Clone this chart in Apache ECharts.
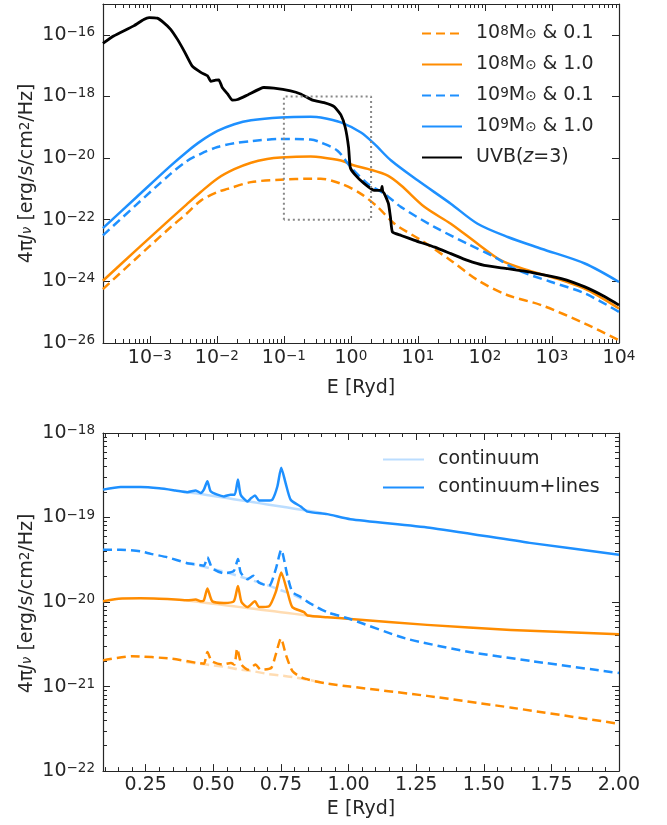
<!DOCTYPE html>
<html><head><meta charset="utf-8">
<script src="https://cdn.jsdelivr.net/npm/echarts@6/dist/echarts.min.js"></script>
<style>html,body{margin:0;padding:0;background:#fff}#c{width:667px;height:825px}</style>
</head><body><div id="c"></div>
<script>
// ---------- TOP PANEL DATA (log10 E [Ryd], log10 4πJν) ----------
const uvbLogE = [-3.70,-3.54,-3.24,-3.09,-3.01,-2.89,-2.79,-2.69,-2.59,-2.49,-2.37,-2.24,-2.14,-2.09,-2.02,-1.97,-1.92,-1.84,-1.77,-1.69,-1.54,-1.30,-1.15,-0.90,-0.75,-0.57,-0.40,-0.25,-0.15,-0.085,-0.035,-0.01,0.05,0.20,0.35,0.45,0.465,0.475,0.50,0.56,0.59,0.62,0.75,0.95,1.25,1.49,1.74,1.99,2.34,2.74,3.14,3.49,3.79,4.0];
const uvbLogJ = [-16.28,-16.04,-15.71,-15.50,-15.44,-15.46,-15.61,-15.82,-16.14,-16.52,-17.01,-17.22,-17.33,-17.51,-17.47,-17.46,-17.71,-17.92,-18.12,-18.10,-17.95,-17.71,-17.73,-17.82,-17.92,-18.12,-18.20,-18.33,-18.60,-19.0,-19.65,-20.30,-20.51,-20.83,-21.05,-21.05,-20.92,-21.08,-21.16,-21.48,-21.92,-22.40,-22.51,-22.67,-22.89,-23.10,-23.32,-23.48,-23.59,-23.73,-23.91,-24.18,-24.50,-24.77];

const b10TopLogE = [-3.70,-3.2,-2.7,-2.45,-2.24,-1.99,-1.74,-1.49,-1.05,-0.60,-0.45,-0.15,0.15,0.35,0.60,1.0,1.49,1.89,2.34,2.84,3.49,4.0];
const b10TopLogJ = [-22.27,-21.27,-20.27,-19.80,-19.45,-19.12,-18.90,-18.77,-18.68,-18.66,-18.68,-18.84,-19.17,-19.54,-20.08,-20.73,-21.48,-22.13,-22.56,-22.94,-23.42,-24.02];

const b01TopLogE = [-3.70,-3.2,-2.7,-2.45,-2.24,-1.99,-1.74,-1.49,-1.05,-0.60,-0.45,-0.20,0.0,0.25,0.50,0.75,1.25,1.74,2.14,2.49,2.99,3.49,4.0];
const b01TopLogJ = [-22.51,-21.51,-20.53,-20.10,-19.86,-19.64,-19.52,-19.45,-19.38,-19.40,-19.49,-19.76,-20.30,-20.83,-21.16,-21.59,-22.24,-22.78,-23.21,-23.64,-24.02,-24.39,-24.99];

const o10TopLogE = [-3.70,-3.2,-2.7,-2.45,-2.24,-1.99,-1.74,-1.49,-1.25,-1.05,-0.60,-0.45,-0.15,0.05,0.25,0.55,0.75,1.10,1.49,1.89,2.24,2.64,3.14,3.54,4.0];
const o10TopLogJ = [-23.98,-22.98,-21.99,-21.50,-21.10,-20.66,-20.36,-20.15,-20.03,-19.98,-19.95,-19.97,-20.08,-20.24,-20.35,-20.57,-20.89,-21.59,-22.13,-22.78,-23.32,-23.64,-23.96,-24.29,-24.88];

const o01TopLogE = [-3.70,-3.2,-2.7,-2.45,-2.24,-1.99,-1.84,-1.49,-1.05,-0.60,-0.45,-0.15,0.15,0.40,0.65,1.05,1.49,1.89,2.34,2.84,3.49,4.0];
const o01TopLogJ = [-24.25,-23.25,-22.26,-21.80,-21.38,-21.10,-21.00,-20.78,-20.70,-20.67,-20.67,-20.83,-21.16,-21.59,-22.13,-22.67,-23.32,-23.96,-24.45,-24.77,-25.37,-25.91];

// zoom box shown in top panel (E range [Ryd], log10 J range)
const boxE = [0.1, 2.0];
const boxLogJ = [-22, -18];

// ---------- BOTTOM PANEL DATA (E [Ryd], log10 4πJν) ----------
const b10E = [0.092,0.157,0.231,0.30,0.36,0.404,0.435,0.453,0.465,0.478,0.49,0.515,0.539,0.564,0.579,0.591,0.601,0.626,0.64,0.654,0.669,0.70,0.718,0.737,0.751,0.767,0.786,0.823,0.848,0.921,1.007,1.30,1.67,2.0];
const b10LogJ = [-18.67,-18.64,-18.64,-18.655,-18.68,-18.70,-18.68,-18.71,-18.67,-18.57,-18.69,-18.73,-18.75,-18.73,-18.73,-18.55,-18.73,-18.81,-18.77,-18.74,-18.80,-18.80,-18.79,-18.63,-18.41,-18.59,-18.79,-18.87,-18.93,-18.96,-19.02,-19.12,-19.30,-19.44];

const b01E = [0.092,0.157,0.231,0.269,0.33,0.404,0.429,0.465,0.478,0.496,0.539,0.576,0.591,0.601,0.626,0.648,0.669,0.706,0.731,0.751,0.774,0.792,0.823,0.86,0.921,1.005,1.21,1.446,1.68,2.0];
const b01LogJ = [-19.38,-19.38,-19.40,-19.43,-19.47,-19.54,-19.55,-19.57,-19.47,-19.60,-19.66,-19.63,-19.49,-19.65,-19.73,-19.69,-19.77,-19.81,-19.61,-19.38,-19.69,-19.88,-19.94,-20.02,-20.12,-20.20,-20.43,-20.59,-20.70,-20.84];

const o10E = [0.092,0.15,0.231,0.30,0.36,0.404,0.435,0.453,0.465,0.478,0.496,0.539,0.576,0.591,0.604,0.626,0.654,0.669,0.706,0.731,0.751,0.774,0.792,0.835,0.848,0.921,1.007,1.29,1.60,2.0];
const o10LogJ = [-19.99,-19.96,-19.955,-19.96,-19.97,-19.98,-19.97,-19.99,-19.98,-19.84,-19.99,-20.01,-19.99,-19.81,-20.0,-20.06,-19.99,-20.06,-20.05,-19.88,-19.65,-19.88,-20.06,-20.12,-20.16,-20.18,-20.20,-20.27,-20.33,-20.38];

const o01E = [0.092,0.20,0.344,0.44,0.465,0.478,0.494,0.533,0.565,0.578,0.588,0.604,0.628,0.656,0.675,0.714,0.73,0.75,0.769,0.793,0.832,0.911,1.005,1.29,1.603,2.0];
const o01LogJ = [-20.69,-20.64,-20.67,-20.72,-20.73,-20.59,-20.70,-20.74,-20.72,-20.74,-20.55,-20.74,-20.80,-20.74,-20.80,-20.78,-20.63,-20.43,-20.63,-20.82,-20.90,-20.96,-21.00,-21.11,-21.25,-21.44];

// continuum only (where it departs from the line curves)
const contE = [0.40,0.45,0.50,0.55,0.60,0.65,0.70,0.75,0.80,0.85,0.90];
const b10ContLogJ = [-18.70,-18.72,-18.745,-18.77,-18.795,-18.82,-18.845,-18.87,-18.895,-18.92,-18.945];
const b01ContLogJ = [-19.54,-19.57,-19.61,-19.65,-19.70,-19.75,-19.80,-19.86,-19.92,-20.00,-20.09];
const o10ContLogJ = [-19.98,-20.00,-20.02,-20.04,-20.06,-20.08,-20.10,-20.12,-20.14,-20.16,-20.175];
const o01ContLogJ = [-20.71,-20.73,-20.75,-20.77,-20.80,-20.82,-20.85,-20.87,-20.89,-20.92,-20.95];

// ---------- ticks ----------
const topXMajor = [-3,-2,-1,0,1,2,3,4];
const topYMajor = [-26,-24,-22,-20,-18,-16];
const botXMajor = [0.25,0.5,0.75,1.0,1.25,1.5,1.75,2.0];
const botYMajor = [-22,-21,-20,-19,-18];

// ---------- build ----------
const FONT = 'DejaVu Sans';
const TXT = '#262626';
const AX = '#262626';
const FS = 19, FSS = 13.5;
const ORANGE = '#ff8c00', BLUE = '#1e90ff';
const ORANGE_L = 'rgba(255,140,0,0.3)', BLUE_L = 'rgba(30,144,255,0.3)';
const XMIN_TOP = Math.log10(2e-4);
const zip = (a, b) => a.map((v, i) => [v, b[i]]);
const logMinor = (lo, hi) => { const r = []; for (let n = Math.floor(lo) - 1; n <= Math.ceil(hi); n++) for (let k = 2; k <= 9; k++) { const v = n + Math.log10(k); if (v > lo && v < hi) r.push(v); } return r; };
const linMinor = [];
for (let i = 2; i <= 39; i++) { const v = i * 0.05; if (Math.abs(v / 0.25 - Math.round(v / 0.25)) > 1e-6) linMinor.push(+v.toFixed(2)); }

const rich = {
  n: {fontFamily: FONT, fontSize: FS, color: TXT, lineHeight: FS, padding: [5, 0, 5, 0]},
  f: {fontFamily: FONT, fontSize: FS, color: TXT, lineHeight: FS, padding: [5, 0, 5, 9]},
  i: {fontFamily: FONT, fontSize: FS, color: TXT, lineHeight: FS, padding: [5, 0, 5, 0], fontStyle: 'italic'},
  sp: {fontFamily: FONT, fontSize: FSS, color: TXT, lineHeight: FSS, verticalAlign: 'top'},
  sb: {fontFamily: FONT, fontSize: FSS, color: TXT, lineHeight: FSS, verticalAlign: 'bottom', padding: [0, 0, 2, 0]},
  si: {fontFamily: FONT, fontSize: FSS, color: TXT, lineHeight: FSS, verticalAlign: 'bottom', padding: [0, 0, 3, 0], fontStyle: 'italic'},
  c: {fontFamily: FONT, fontSize: FS, color: TXT, lineHeight: 20, padding: [0, 0, 0, 9]}
};
const powLabel = v => { const e = Math.round(v); return '{n|10}{sp|' + (e < 0 ? '\u2212' + Math.abs(e) : e) + '}'; };
const yTitle = '{n|4π}{i|J}{si|ν}{n| [erg/s/cm}{sp|2}{n|/Hz]}';

function axisSet(kind, grid, min, max, majors, minors, labelFn, labelMargin, name, nameGap) {
  const pos = kind === 'x' ? ['bottom', 'top'] : ['left', 'right'];
  const out = [];
  pos.forEach((p, pi) => {
    const main = {
      type: 'value', gridIndex: grid, position: p, min, max,
      axisLine: {show: true, onZero: false, lineStyle: {color: AX, width: 1.2}},
      axisTick: {show: true, inside: true, length: 7, customValues: majors, lineStyle: {color: AX, width: 1}},
      axisLabel: pi === 0 ? {show: true, customValues: majors, formatter: labelFn, margin: labelMargin, rich, fontFamily: FONT, fontSize: FS, color: TXT} : {show: false},
      splitLine: {show: false}
    };
    if (pi === 0 && name) {
      main.name = name; main.nameLocation = 'middle'; main.nameGap = nameGap;
      main.nameTextStyle = {rich, fontFamily: FONT, fontSize: FS, color: TXT};
    }
    out.push(main);
    out.push({
      type: 'value', gridIndex: grid, position: p, min, max,
      axisLine: {show: false, onZero: false},
      axisTick: {show: true, inside: true, length: 4, customValues: minors, lineStyle: {color: AX, width: 1}},
      axisLabel: {show: false}, splitLine: {show: false}
    });
  });
  return out;
}

const xAxes = [
  ...axisSet('x', 0, XMIN_TOP, 4, topXMajor, logMinor(XMIN_TOP, 4), powLabel, 6, '{n|E [Ryd]}', 25),
  ...axisSet('x', 1, 0.092, 2.0, botXMajor, linMinor, v => v.toFixed(2), 4, '{n|E [Ryd]}', 26)
];
const yAxes = [
  ...axisSet('y', 0, -26, -15, topYMajor, [], powLabel, 8),
  ...axisSet('y', 1, -22, -18, botYMajor, logMinor(-22, -18), powLabel, 8)
];

function line(name, data, color, dashed, grid, width, z, smooth) {
  return {
    name, type: 'line', data, xAxisIndex: grid * 4, yAxisIndex: grid * 4,
    symbol: 'none', showSymbol: false, animation: false, z: z || 2,
    smooth: smooth === undefined ? 0.3 : smooth,
    itemStyle: {color},
    lineStyle: {color, width: width || 2.5, type: dashed ? [9, 5] : 'solid', cap: 'butt', join: 'round'}
  };
}

const boxData = [[boxE[0], boxLogJ[0]], [boxE[0], boxLogJ[1]], [boxE[1], boxLogJ[1]], [boxE[1], boxLogJ[0]], [boxE[0], boxLogJ[0]]].map(d => [Math.log10(d[0]), d[1]]);

const N = {
  o01: '10^8 & 0.1', o10: '10^8 & 1.0', b01: '10^9 & 0.1', b10: '10^9 & 1.0', uvb: 'UVB(z=3)'
};
const legendText = {
  [N.o01]: '{f|10}{sp|8}{n|M}{sb|⊙}{n| & 0.1}',
  [N.o10]: '{f|10}{sp|8}{n|M}{sb|⊙}{n| & 1.0}',
  [N.b01]: '{f|10}{sp|9}{n|M}{sb|⊙}{n| & 0.1}',
  [N.b10]: '{f|10}{sp|9}{n|M}{sb|⊙}{n| & 1.0}',
  [N.uvb]: '{f|UVB(}{i|z}{n|=3)}',
  'continuum': '{c|continuum}',
  'continuum+lines': '{c|continuum+lines}'
};

const series = [
  line(N.o01, zip(o01TopLogE, o01TopLogJ), ORANGE, true, 0),
  line(N.o10, zip(o10TopLogE, o10TopLogJ), ORANGE, false, 0),
  line(N.b01, zip(b01TopLogE, b01TopLogJ), BLUE, true, 0),
  line(N.b10, zip(b10TopLogE, b10TopLogJ), BLUE, false, 0),
  line(N.uvb, zip(uvbLogE, uvbLogJ), '#000000', false, 0, 2.8, 3, 0.15),
  Object.assign(line('box', boxData, '#888888', false, 0, 2, 4, false), {lineStyle: {color: '#888888', width: 2, type: [2, 3]}}),
  // bottom continuum (light)
  line('c_o01', zip(contE, o01ContLogJ), ORANGE_L, true, 1, 2.5, 1, 0.2),
  line('c_o10', zip(contE, o10ContLogJ), ORANGE_L, false, 1, 2.5, 1, 0.2),
  line('c_b01', zip(contE, b01ContLogJ), BLUE_L, true, 1, 2.5, 1, 0.2),
  line('continuum', zip(contE, b10ContLogJ), BLUE_L, false, 1, 2.5, 1, 0.2),
  // bottom continuum+lines
  line('l_o01', zip(o01E, o01LogJ), ORANGE, true, 1, 2.5, 2, 0.2),
  line('l_o10', zip(o10E, o10LogJ), ORANGE, false, 1, 2.5, 2, 0.2),
  line('l_b01', zip(b01E, b01LogJ), BLUE, true, 1, 2.5, 2, 0.2),
  line('continuum+lines', zip(b10E, b10LogJ), BLUE, false, 1, 2.5, 2, 0.2)
];

const legendCommon = {
  orient: 'vertical', padding: 0, itemHeight: 14, selectedMode: false,
  formatter: n => legendText[n],
  itemStyle: {opacity: 0, borderWidth: 0},
  textStyle: {rich, fontFamily: FONT, fontSize: FS, color: TXT}
};

const yTitleGraphic = (cy) => ({
  type: 'text', x: 27.5, y: cy, rotation: Math.PI / 2, z: 10,
  style: {text: yTitle, rich, fontFamily: FONT, fontSize: FS, fill: TXT, align: 'center', verticalAlign: 'middle'}
});

const chart = echarts.init(document.getElementById('c'), null, {renderer: 'canvas'});
chart.setOption({
  backgroundColor: '#ffffff',
  animation: false,
  grid: [
    {left: 103, top: 4, width: 516, height: 339},
    {left: 103, top: 433, width: 516, height: 341}
  ],
  xAxis: xAxes,
  yAxis: yAxes,
  legend: [
    Object.assign({data: [N.o01, N.o10, N.b01, N.b10, N.uvb], left: 421, top: 19, itemWidth: 40, itemGap: 2}, legendCommon),
    Object.assign({data: ['continuum', 'continuum+lines'], left: 382, top: 450, itemWidth: 41, itemGap: 9}, legendCommon)
  ],
  graphic: [yTitleGraphic(173.5), yTitleGraphic(603.5)],
  series
});
</script></body></html>
